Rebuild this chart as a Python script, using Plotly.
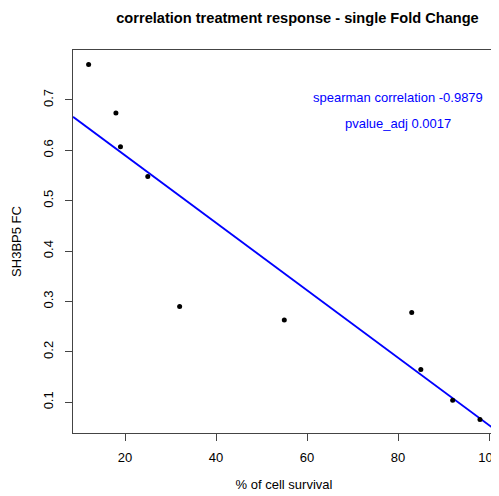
import numpy as np
import plotly.graph_objects as go

survival = [12, 18, 19, 25, 32, 55, 83, 85, 92, 98]
fold_change = [0.77, 0.674, 0.607, 0.548, 0.29, 0.263, 0.278, 0.165, 0.104, 0.066]
x_ticks = [20, 40, 60, 80, 100]
y_ticks = [0.1, 0.2, 0.3, 0.4, 0.5, 0.6, 0.7]
annot_lines = ["spearman correlation -0.9879", "pvalue_adj 0.0017"]

x_range = [8.57, 101.3]
y_range = [0.039, 0.799]

slope, intercept = np.polyfit(survival, fold_change, 1)
line_x = np.array(x_range)
line_y = intercept + slope * line_x

font = "Liberation Sans, Arial, Helvetica, sans-serif"
W, H = 491, 488  # page body has an 8px margin

fig = go.Figure()
fig.add_trace(go.Scatter(x=line_x, y=line_y, mode="lines",
                         line=dict(color="blue", width=1.8), hoverinfo="skip"))
fig.add_trace(go.Scatter(x=survival, y=fold_change, mode="markers",
                         marker=dict(color="black", size=5)))

fig.add_annotation(x=80, y=0.704, text=annot_lines[0], showarrow=False,
                   font=dict(color="blue", size=13, family=font))
fig.add_annotation(x=80, y=0.654, text=annot_lines[1], showarrow=False,
                   font=dict(color="blue", size=13, family=font))

fig.update_layout(
    width=W, height=H,
    margin=dict(l=65, r=4, t=42, b=63, autoexpand=False),
    paper_bgcolor="white", plot_bgcolor="white",
    showlegend=False,
    font=dict(family=font, size=13, color="black"),
    title=dict(text="<b>correlation treatment response - single Fold Change</b>",
               x=289.5 / W, xanchor="center", y=1 - 10 / H, yanchor="middle",
               font=dict(size=14.6, family=font, color="black")),
)
fig.update_xaxes(range=x_range, tickvals=x_ticks, ticks="outside", ticklen=7,
                 tickcolor="#444", showgrid=False, zeroline=False, automargin=False,
                 showline=True, linecolor="#444", linewidth=1, mirror=True,
                 ticklabelstandoff=5, ticklabeloverflow="allow",
                 tickfont=dict(size=13, color="black"),
                 title=dict(text="% of cell survival", standoff=16,
                            font=dict(size=13, color="black")))
fig.update_yaxes(range=y_range, tickvals=y_ticks, ticks="outside", ticklen=7,
                 tickangle=-90, tickcolor="#444", showgrid=False, zeroline=False,
                 automargin=False,
                 showline=True, linecolor="#444", linewidth=1, mirror=True,
                 ticklabelstandoff=7,
                 tickfont=dict(size=13, color="black"),
                 title=dict(text="SH3BP5 FC", standoff=16,
                            font=dict(size=13, color="black")))

fig.write_html("out.html")
